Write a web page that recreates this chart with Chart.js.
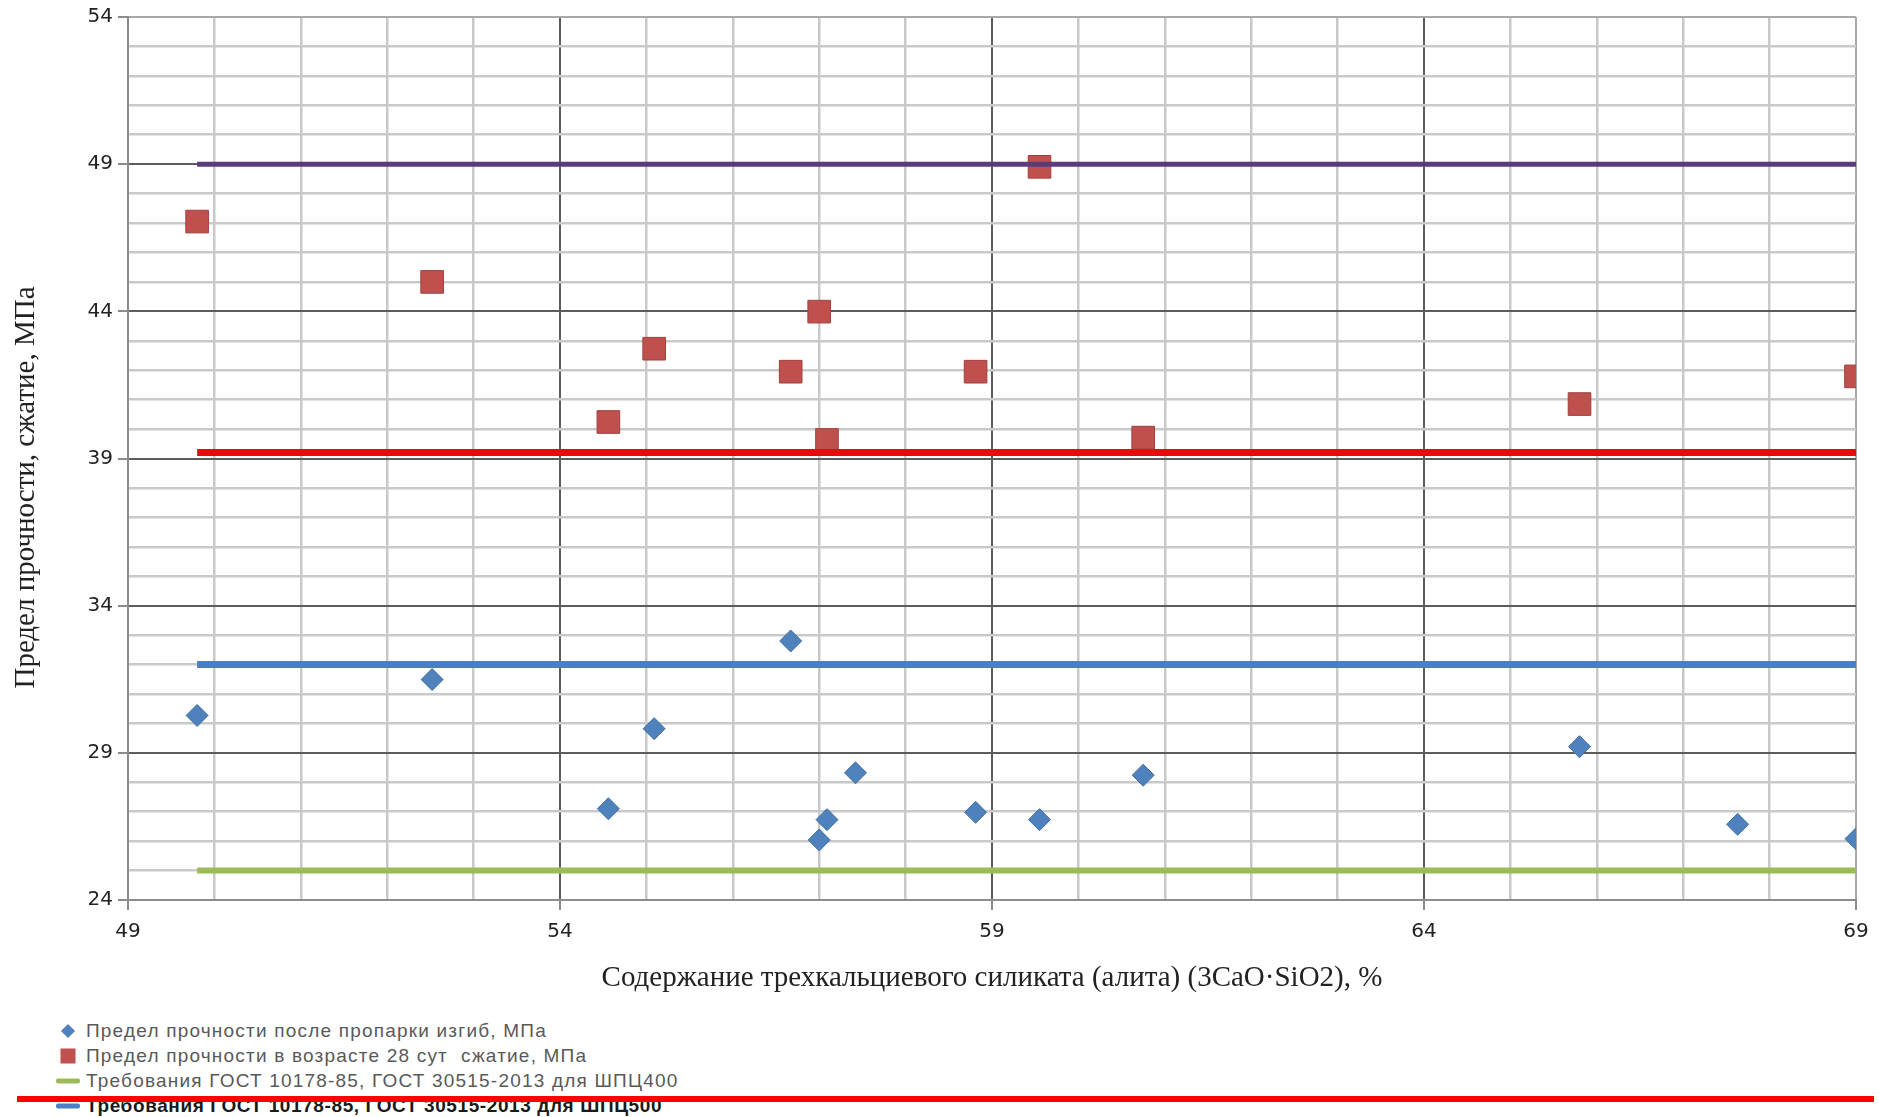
<!DOCTYPE html>
<html>
<head>
<meta charset="utf-8">
<script src="https://cdn.jsdelivr.net/npm/chart.js@4.4.0/dist/chart.umd.min.js"></script>
<style>
  body { margin: 0; background: #fff; width: 1879px; height: 1117px; overflow: hidden; position: relative; }
  #wrap { position: absolute; left: 0; top: 0; width: 1879px; height: 1000px; }
  #legend { position: absolute; left: 56px; top: 1018px; font-family: "Liberation Sans", Arial, sans-serif; }
  .item { height: 25px; display: flex; align-items: center; font-size: 19px; letter-spacing: 1.2px; color: #595959; white-space: pre; }
  .item.strong { color: #1a1a1a; font-weight: bold; letter-spacing: 0.6px; }
  .mark { width: 24px; height: 20px; position: relative; margin-right: 6px; flex: none; }
  .mark span { position: absolute; left: 50%; top: 50%; transform: translate(-50%, -50%); }
  #redbar { position: absolute; left: 17px; top: 1096px; width: 1857px; height: 6px; background: #ff0000; }
</style>
</head>
<body>
<div id="wrap"><canvas id="chart" width="1879" height="1000"></canvas></div>
<div id="legend"></div>
<div id="redbar"></div>
<script>
/* DATA */
const blueX = [49.8, 52.52, 54.56, 55.09, 56.67, 57.0, 57.09, 57.42, 58.81, 59.55, 60.75, 65.8, 67.63, 69.0];
const blueY = [30.27, 31.49, 27.1, 29.82, 32.8, 26.04, 26.73, 28.32, 26.98, 26.73, 28.24, 29.21, 26.57, 26.08];
const redX = [49.8, 52.52, 54.56, 55.09, 56.67, 57.0, 57.09, 58.81, 59.55, 60.75, 65.8, 69.0];
const redY = [47.05, 45.0, 40.24, 42.73, 41.95, 43.99, 39.63, 41.95, 48.91, 39.71, 40.85, 41.79];
const limitX = [49.8, 69];
const limitGreen = 25;    // ШПЦ400, изгиб
const limitBlue = 32;     // ШПЦ500, изгиб
const limitRed = 39.2;    // ШПЦ400, сжатие
const limitPurple = 49;   // ШПЦ500, сжатие

const xMajor = [49, 54, 59, 64, 69];
const yMajor = [24, 29, 34, 39, 44, 49, 54];

const labels = [
  "Предел прочности после пропарки изгиб, МПа",
  "Предел прочности в возрасте 28 сут  сжатие, МПа",
  "Требования ГОСТ 10178-85, ГОСТ 30515-2013 для ШПЦ400",
  "Требования ГОСТ 10178-85, ГОСТ 30515-2013 для ШПЦ500",
  "Требования ГОСТ 10178-85, ГОСТ 30515-2013 для ШПЦ400 сжатие",
  "Требования ГОСТ 10178-85, ГОСТ 30515-2013 для ШПЦ500 сжатие"
];

const xTitle = "Содержание трехкальциевого силиката (алита) (3CaO·SiO2), %";
// trailing no-break spaces push the rotated title a bit lower, as in the picture
const yTitle = "Предел прочности, сжатие, МПа" + "\u00A0".repeat(8);

/* HELPERS */
const toPoints = (xs, ys) => xs.map((x, i) => ({ x: x, y: ys[i] }));
const flat = (xs, v) => xs.map(x => ({ x: x, y: v }));

function gridColor(majors, min, max) {
  return ctx => {
    const v = ctx.tick ? ctx.tick.value : null;
    if (v === min || v === max) return "#a9a9a9";
    return majors.includes(v) ? "#5c5c5c" : "#c9c9c9";
  };
}
function gridWidth(majors) {
  return ctx => (ctx.tick && majors.includes(ctx.tick.value)) ? 2 : 2.5;
}
function tickColor(majors) {
  return ctx => (ctx.tick && majors.includes(ctx.tick.value)) ? "#8c8c8c" : "rgba(0,0,0,0)";
}

/* CHART */
const chart = new Chart(document.getElementById("chart"), {
  type: "scatter",
  data: {
    datasets: [
      { label: labels[2], data: flat(limitX, limitGreen), showLine: true, pointRadius: 0,
        borderColor: "#9bbb59", borderWidth: 6, order: 0 },
      { label: labels[3], data: flat(limitX, limitBlue), showLine: true, pointRadius: 0,
        borderColor: "#4a7ec6", borderWidth: 7, order: 0 },
      { label: labels[4], data: flat(limitX, limitRed), showLine: true, pointRadius: 0,
        borderColor: "#e30d0d", borderWidth: 7, order: 0 },
      { label: labels[5], data: flat(limitX, limitPurple), showLine: true, pointRadius: 0,
        borderColor: "#5b3c7a", borderWidth: 5, order: 0 },
      { label: labels[0], data: toPoints(blueX, blueY), pointStyle: "rectRot", pointRadius: 11,
        backgroundColor: "#4f81bd", borderColor: "#41709f", borderWidth: 1, order: 1 },
      { label: labels[1], data: toPoints(redX, redY), pointStyle: "rect", pointRadius: 16,
        backgroundColor: "#c0504d", borderColor: "#a0403d", borderWidth: 1, order: 1 }
    ]
  },
  options: {
    responsive: false,
    animation: false,
    devicePixelRatio: 1,
    layout: { padding: { left: 8.6, top: 17, right: 23, bottom: 4.6 } },
    plugins: { legend: { display: false }, tooltip: { enabled: false } },
    scales: {
      x: {
        type: "linear", min: 49, max: 69,
        afterFit: s => { s.height = 95.4; },
        ticks: {
          stepSize: 1, autoSkip: false, maxRotation: 0, padding: 10,
          color: "#222", font: { family: "DejaVu Sans", size: 20 },
          callback: v => xMajor.includes(v) ? String(v) : ""
        },
        grid: { color: gridColor(xMajor, 49, 69), lineWidth: gridWidth(xMajor),
                tickColor: tickColor(xMajor), tickLength: 10, tickWidth: 2 },
        border: { color: "#8c8c8c", width: 2 },
        title: { display: true, text: xTitle, padding: 0, color: "#222",
                 font: { family: "Liberation Serif", size: 29, lineHeight: 1.2 } }
      },
      y: {
        type: "linear", min: 24, max: 54,
        afterFit: s => { s.width = 119.4; },
        ticks: {
          stepSize: 1, autoSkip: false, padding: 5,
          color: "#222", font: { family: "DejaVu Sans", size: 20 },
          callback: v => yMajor.includes(v) ? String(v) : ""
        },
        grid: { color: gridColor(yMajor, 24, 54), lineWidth: gridWidth(yMajor),
                tickColor: tickColor(yMajor), tickLength: 10, tickWidth: 2 },
        border: { color: "#8c8c8c", width: 2 },
        title: { display: true, text: yTitle, padding: 0, color: "#222",
                 font: { family: "Liberation Serif", size: 29, lineHeight: 1.2 } }
      }
    }
  }
});

/* LEGEND (first four entries, as visible in the picture) */
function buildLegend() {
  const box = document.getElementById("legend");
  const ds = chart.data.datasets;
  const order = [4, 5, 0, 1];
  order.forEach((idx, n) => {
    const d = ds[idx];
    const item = document.createElement("div");
    item.className = "item" + (n === 3 ? " strong" : "");
    const mark = document.createElement("div");
    mark.className = "mark";
    const s = document.createElement("span");
    if (d.pointStyle === "rectRot") {
      s.style.cssText += "width:10px;height:10px;background:" + d.backgroundColor + ";transform:translate(-50%,-50%) rotate(45deg);";
    } else if (d.pointStyle === "rect") {
      s.style.cssText += "width:15px;height:15px;background:" + d.backgroundColor + ";";
    } else {
      s.style.cssText += "width:24px;height:5px;border-radius:2px;background:" + d.borderColor + ";";
    }
    mark.appendChild(s);
    item.appendChild(mark);
    item.appendChild(document.createTextNode(d.label));
    box.appendChild(item);
  });
}
buildLegend();
</script>
</body>
</html>
